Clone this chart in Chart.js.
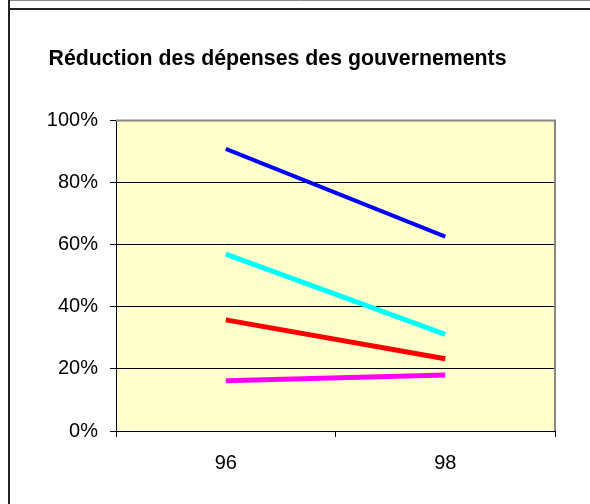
<!DOCTYPE html>
<html>
<head>
<meta charset="utf-8">
<script src="https://cdn.jsdelivr.net/npm/chart.js@4"></script>
<style>
  html, body { margin: 0; padding: 0; background: #fff; }
  canvas { display: block; }
</style>
</head>
<body>
<canvas id="myChart" width="590" height="504"></canvas>
<script>
// Réduction des dépenses des gouvernements

const years = ['96', '98'];
const serieBleu = [90.9, 62.6];
const serieCyan = [57.0, 31.1];
const serieRouge = [35.8, 23.3];
const serieMagenta = [16.2, 18.0];
const yTicks = [0, 20, 40, 60, 80, 100];

const fontName = "'Liberation Sans', Arial, sans-serif";

// frame around the chart + yellow plot area + grey top/right border
const frame = {
    id: 'frame',
    beforeDraw(chart) {
        const c = chart.ctx;
        const a = chart.chartArea;
        c.save();
        c.fillStyle = '#FFFFCC';
        c.fillRect(a.left, a.top, a.right - a.left, a.bottom - a.top);
        // outer box
        c.strokeStyle = '#888';
        c.lineWidth = 1;
        c.beginPath();
        c.moveTo(9, 0.5); c.lineTo(590, 0.5);
        c.stroke();
        c.strokeStyle = '#222';
        c.lineWidth = 2;
        c.beginPath();
        c.moveTo(9, 0); c.lineTo(9, 504);
        c.moveTo(9, 9); c.lineTo(590, 9);
        c.stroke();
        c.restore();
    },
    beforeDatasetsDraw(chart) {
        const c = chart.ctx;
        const a = chart.chartArea;
        c.save();
        c.strokeStyle = '#888';
        c.lineWidth = 2;
        c.beginPath();
        c.moveTo(a.left, a.top);
        c.lineTo(a.right, a.top);
        c.lineTo(a.right, a.bottom);
        c.stroke();
        c.restore();
    }
};

const ctx = document.getElementById('myChart').getContext('2d');

const myChart = new Chart(ctx, {
    type: 'line',
    data: {
        labels: years,
        datasets: [
            { label: 'Série 1', data: serieBleu, borderColor: '#0000FF', borderWidth: 4 },
            { label: 'Série 2', data: serieCyan, borderColor: '#00FFFF', borderWidth: 5 },
            { label: 'Série 3', data: serieRouge, borderColor: '#FF0000', borderWidth: 5 },
            { label: 'Série 4', data: serieMagenta, borderColor: '#FF00FF', borderWidth: 5 }
        ]
    },
    options: {
        responsive: false,
        animation: false,
        elements: {
            point: { radius: 0, hoverRadius: 0 },
            line: { tension: 0, borderCapStyle: 'butt' }
        },
        layout: { padding: { left: 0, right: 35, top: 0, bottom: 0 } },
        scales: {
            x: {
                offset: true,
                grid: {
                    offset: true,
                    drawOnChartArea: false,
                    drawTicks: true,
                    tickLength: 6,
                    color: '#000'
                },
                border: { color: '#000', width: 1 },
                ticks: {
                    color: '#000',
                    padding: 14,
                    font: { family: fontName, size: 20 }
                },
                afterFit(scale) { scale.height = 73; }
            },
            y: {
                min: 0,
                max: 100,
                afterBuildTicks(scale) {
                    scale.ticks = yTicks.map(v => ({ value: v }));
                },
                grid: {
                    color: (c) => c.tick && c.tick.value === 100 ? 'rgba(0,0,0,0)' : '#000',
                    lineWidth: 1,
                    tickLength: 6,
                    tickColor: '#000'
                },
                border: { color: '#000', width: 1 },
                ticks: {
                    color: '#000',
                    padding: 12,
                    font: { family: fontName, size: 20 },
                    callback: function (value) {
                        return `${value}%`;
                    }
                },
                afterFit(scale) { scale.width = 116; }
            }
        },
        plugins: {
            legend: { display: false },
            tooltip: { enabled: false },
            title: {
                display: true,
                text: 'Réduction des dépenses des gouvernements',
                color: '#000',
                font: { family: fontName, size: 21.3, weight: 'bold' },
                padding: { top: 46, bottom: 49 }
            }
        }
    },
    plugins: [frame]
});
</script>
</body>
</html>
